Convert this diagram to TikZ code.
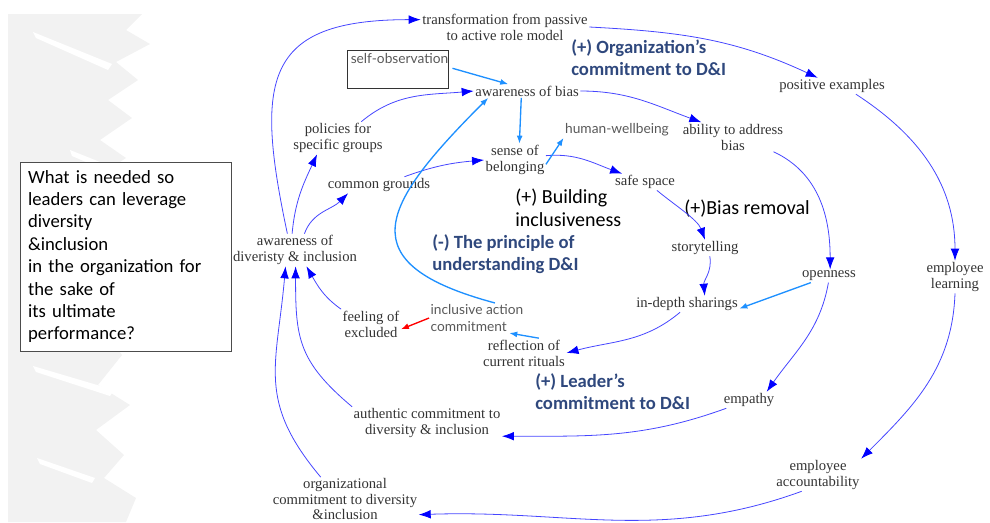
\documentclass[tikz,border=0pt]{standalone}
\usepackage{fontspec}
\setmainfont{Liberation Serif}
\newfontfamily\lblsans{Lato}
\newfontfamily\calibri{Carlito}
\usetikzlibrary{arrows.meta}
\definecolor{linkblue}{RGB}{70,70,255}
\definecolor{tipblue}{RGB}{0,0,255}
\definecolor{skyblue}{RGB}{30,144,255}
\definecolor{titleblue}{RGB}{47,72,125}
\definecolor{brushgray}{RGB}{242,242,242}

\begin{document}
\begin{tikzpicture}[x=0.75pt, y=0.75pt]
	\tikzstyle{var}       = [font=\fontsize{11}{12}\selectfont, text=black!80, align=center, inner sep=1pt]
	\tikzstyle{svar}      = [font=\lblsans\fontsize{10.3}{12.5}\selectfont, text=black!65, align=left, inner sep=1pt]
	\tikzstyle{looptxt}   = [font=\calibri\fontsize{15}{17.3}\selectfont, align=left, anchor=west, inner sep=0pt]
	\tikzstyle{looptitle} = [font=\calibri\bfseries\fontsize{14}{16.5}\selectfont, text=titleblue, align=left, anchor=west, inner sep=0pt]
	\tikzstyle{link}      = [draw=linkblue, line width=0.6pt, -{Latex[length=9pt, width=6.5pt, color=tipblue]}]
	\tikzstyle{cue}       = [draw=skyblue, line width=1pt, -{Latex[length=6pt, width=4.5pt]}]
	\tikzstyle{cut}       = [draw=red, line width=1pt, -{Latex[length=6pt, width=4.5pt]}]

	\useasboundingbox (0,0) rectangle (990,-522);

%	\draw[step=10, gray!30] (0,0) grid (990,-522);

	% brush in the background
	\fill[brushgray] (8,-14) -- (142,-14) -- (126,-30) -- (150,-44) -- (116,-62) -- (138,-80) -- (108,-100) -- (132,-118) -- (100,-140) -- (126,-158) -- (100,-175) -- (118,-200) -- (98,-240) -- (120,-280) -- (96,-320) -- (122,-355) -- (98,-385) -- (130,-405) -- (96,-430) -- (124,-455) -- (104,-478) -- (136,-498) -- (126,-522) -- (8,-522) -- cycle;
	\fill[white] (33,-32) -- (112,-64) -- (108,-70) -- (36,-38) -- cycle;
	\fill[white] (70,-150) -- (120,-170) -- (116,-175) -- (72,-156) -- cycle;
	\fill[white] (33,-366) -- (114,-390) -- (110,-396) -- (36,-372) -- cycle;
	\fill[white] (37,-458) -- (95,-478) -- (92,-483) -- (40,-464) -- cycle;

	\node[draw=black!70, fill=white, line width=0.7pt, minimum width=158.25pt, minimum height=141.75pt, text width=146pt, inner xsep=6pt, align=left, font=\calibri\fontsize{14}{16.8}\selectfont] (question) at (125.5,-256.5) {What is needed so\\leaders can leverage\\diversity\\\&inclusion\\in the organization for\\the sake of\\its ultimate\\performance?};

	\node[var] (transf) at (505,-27) {transformation from passive\\to active role model};
	\node[draw=black!80, line width=0.7pt, minimum width=75.75pt, minimum height=28.5pt] (selfbox) at (397.5,-69) {};
	\node[svar, anchor=north west, inner sep=3pt] (selfobs) at (selfbox.north west) {self-observation};
	\node[var] (posex) at (832,-86) {positive examples};
	\node[var] (awbias) at (527,-91) {awareness of bias};
	\node[var] (ability) at (733,-137) {ability to address\\bias};
	\node[var] (policies) at (338,-138) {policies for\\specific groups};
	\node[svar] (human) at (617,-130) {human-wellbeing};
	\node[var] (belong) at (515,-160) {sense of\\belonging};
	\node[var] (common) at (379,-185) {common grounds};
	\node[var] (safe) at (645,-182) {safe space};
	\node[var] (awdiv) at (295,-250) {awareness of\\diveristy \& inclusion};
	\node[var] (story) at (705,-248) {storytelling};
	\node[var] (open) at (829,-276) {openness};
	\node[var] (learn) at (955,-277) {employee\\learning};
	\node[var] (depth) at (687,-304) {in-depth sharings};
	\node[svar] (inclusive) at (477,-318) {inclusive action\\commitment};
	\node[var] (feeling) at (371,-324) {feeling of\\excluded};
	\node[var] (reflect) at (524,-353) {reflection of\\current rituals};
	\node[var] (empathy) at (749,-400) {empathy};
	\node[var] (authentic) at (427,-423) {authentic commitment to\\diversity \& inclusion};
	\node[var] (account) at (818,-475) {employee\\accountability};
	\node[var, font=\fontsize{11}{11.3}\selectfont] (orgcom) at (345,-499) {organizational\\commitment to diversity\\\&inclusion};

	% loop names
	\node[looptitle] (orgloop) at (571,-58) {(+) Organization’s\\commitment to D\&I};
	\node[looptxt] (buildloop) at (515,-207.5) {(+) Building\\inclusiveness};
	\node[looptxt] (biasloop) at (684,-209) {(+)Bias removal};
	\node[looptitle] (princloop) at (432,-254) {(-) The principle of\\understanding D\&I};
	\node[looptitle] (leadloop) at (535,-392) {(+) Leader’s\\commitment to D\&I};

	\foreach \from/\to/\o/\i/\l in {awdiv.115/transf.175/102/180/1.6, awdiv.100/policies.218/85/245/1, awdiv.60/common.195/70/225/1,
			policies.35/awbias.west/40/185/1, common.18/belong.west/20/185/1, transf.east/posex.150/-3/155/1,
			awbias.east/ability.155/0/160/1, belong.8/safe.160/5/160/1, safe.-35/story.north/-40/110/0.8,
			story.-60/depth.25/-80/95/1, depth.-130/reflect.east/-140/15/1, ability.-20/open.80/-25/90/1,
			posex.-19/learn.north/-33/90/1, open.-95/empathy.25/-100/55/1, learn.south/account.north east/-92/45/1,
			empathy.200/authentic.-10/-160/0/1, account.-135/orgcom.-12/-160/2/1, feeling.north west/awdiv.-55/145/-60/1,
			authentic.north west/awdiv.-88/140/-90/1.2, orgcom.138/awdiv.-120/130/-95/1.2}
		\draw[link] (\from) to[out=\o, in=\i, looseness=\l] (\to);

	\foreach \from/\to in {selfobs.south east/awbias.160, awbias.-130/belong.75, belong.-8/human.south west, reflect.45/inclusive.-25, open.200/depth.-5}
		\draw[cue] (\from) -- (\to);
	\draw[cue] (inclusive.40) to[out=165, in=-135, looseness=1.9] (awbias.190);
	\draw[cut] (inclusive.west) -- (feeling.-10);
\end{tikzpicture}
\end{document}
